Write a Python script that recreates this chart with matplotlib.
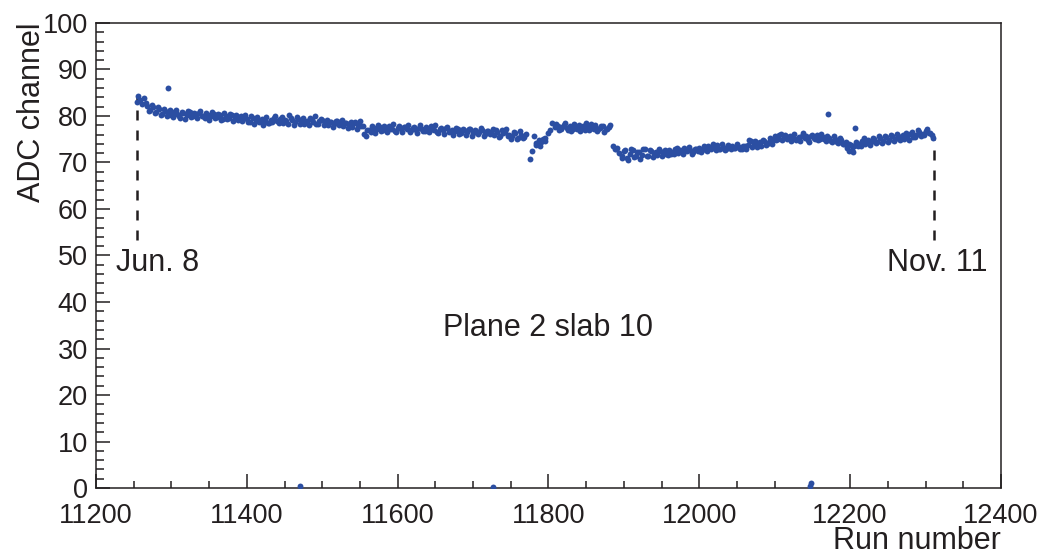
import numpy as np
import matplotlib
matplotlib.use("Agg")
import matplotlib.pyplot as plt
from matplotlib.ticker import MultipleLocator

plt.rcParams["font.family"] = ["Liberation Sans", "DejaVu Sans"]
plt.rcParams["font.size"] = 22

INK = "#231f20"
BLUE = "#2b4ea2"

# ADC peak position per run (plane 2, slab 10), two interleaved run lists
runs_early = [11254, 11256, 11258, 11261, 11264, 11266, 11268, 11270, 11272,
              11274, 11276, 11278, 11280, 11282, 11284, 11286, 11288, 11290,
              11292, 11294, 11296, 11298]
adc_early = [83.0, 84.3, 83.5, 82.6, 83.9, 82.8, 82.1, 81.0, 81.3,
             82.4, 81.9, 80.6, 80.8, 81.9, 81.5, 80.2, 80.4, 81.6,
             81.0, 80.0, 80.6, 81.2]

runs_a = [11300, 11304, 11308, 11312, 11316, 11320, 11324, 11328, 11332, 11336,
          11340, 11344, 11348, 11352, 11356, 11360, 11364, 11368, 11372, 11376,
          11380, 11384, 11388, 11392, 11396]
adc_a = [80.2, 80.9, 80.5, 79.6, 80.7, 80.3, 80.8, 79.9, 80.4, 80.6,
         80.1, 79.5, 80.3, 79.9, 80.5, 79.7, 80.2, 79.4, 80.0, 79.6,
         80.3, 79.8, 79.2, 79.9, 79.5]
runs_a2 = [11302, 11306, 11310, 11314, 11318, 11322, 11326, 11330, 11334, 11338,
           11342, 11346, 11350, 11354, 11358, 11362, 11366, 11370, 11374, 11378,
           11382, 11386, 11390, 11394, 11398]
adc_a2 = [79.8, 81.2, 80.0, 80.9, 79.4, 81.0, 79.7, 80.6, 79.5, 81.1,
          79.9, 80.7, 79.2, 80.8, 79.6, 80.4, 79.1, 80.6, 79.3, 80.5,
          79.0, 80.2, 79.7, 78.9, 80.3]

runs_b = [11400, 11404, 11408, 11412, 11416, 11420, 11424, 11428, 11432, 11436,
          11440, 11444, 11448, 11452, 11456, 11460, 11464, 11468, 11472, 11476,
          11480, 11484, 11488, 11492, 11496, 11500, 11504, 11508, 11512, 11516,
          11520, 11524, 11528, 11532, 11536, 11540, 11544, 11548, 11552]
adc_b = [79.4, 78.8, 79.6, 79.1, 78.6, 79.3, 79.0, 78.5, 79.2, 79.6,
         78.9, 79.3, 78.4, 79.0, 80.2, 79.1, 78.6, 79.4, 78.9, 78.3,
         79.0, 79.5, 78.7, 78.2, 78.9, 79.2, 78.5, 78.0, 78.7, 78.3,
         78.9, 78.4, 77.8, 78.5, 78.2, 77.7, 78.6, 78.1, 77.9]
runs_b2 = [11402, 11406, 11410, 11414, 11418, 11422, 11426, 11430, 11434, 11438,
           11442, 11446, 11450, 11454, 11458, 11462, 11466, 11470, 11474, 11478,
           11482, 11486, 11490, 11494, 11498, 11502, 11506, 11510, 11514, 11518,
           11522, 11526, 11530, 11534, 11538, 11542, 11546, 11550, 11554]
adc_b2 = [78.6, 79.9, 78.3, 79.7, 79.0, 78.1, 79.8, 78.5, 78.8, 80.0,
          78.4, 79.7, 79.1, 78.2, 79.5, 78.0, 79.8, 78.3, 79.5, 78.7,
          78.1, 79.2, 79.9, 78.3, 79.4, 78.0, 79.1, 78.6, 77.6, 79.0,
          78.1, 79.2, 78.5, 77.5, 78.8, 78.4, 77.3, 78.9, 77.8]

runs_c = [11556, 11560, 11564, 11568, 11572, 11576, 11580, 11584, 11588, 11592,
          11596, 11600, 11604, 11608, 11612, 11616, 11620, 11624, 11628, 11632,
          11636, 11640, 11644, 11648, 11652, 11656, 11660, 11664, 11668, 11672,
          11676, 11680, 11684, 11688, 11692, 11696, 11700, 11704, 11708, 11712,
          11716, 11720, 11724, 11728, 11732, 11736, 11740, 11744, 11748]
adc_c = [76.2, 77.0, 76.6, 77.5, 77.1, 77.6, 77.0, 77.4, 77.8, 77.2,
         76.8, 77.5, 77.1, 77.6, 77.3, 76.6, 77.4, 77.0, 77.5, 77.2,
         76.8, 77.3, 77.8, 77.0, 76.6, 77.2, 76.9, 77.4, 76.5, 77.0,
         76.7, 77.3, 76.4, 76.9, 76.6, 77.1, 76.3, 76.8, 76.5, 77.0,
         76.2, 76.7, 76.4, 76.0, 76.6, 75.8, 76.3, 77.2, 76.0]
runs_c2 = [11558, 11562, 11566, 11570, 11574, 11578, 11582, 11586, 11590, 11594,
           11598, 11602, 11606, 11610, 11614, 11618, 11622, 11626, 11630, 11634,
           11638, 11642, 11646, 11650, 11654, 11658, 11662, 11666, 11670, 11674,
           11678, 11682, 11686, 11690, 11694, 11698, 11702, 11706, 11710, 11714,
           11718, 11722, 11726, 11730, 11734, 11738, 11742, 11746, 11750]
adc_c2 = [75.8, 76.9, 77.8, 76.4, 78.0, 76.7, 77.9, 76.5, 77.3, 78.2,
          76.6, 77.9, 76.5, 77.7, 78.1, 76.9, 77.6, 76.4, 78.0, 76.8,
          77.6, 76.5, 77.2, 78.0, 76.3, 77.5, 76.1, 77.7, 76.8, 75.9,
          77.4, 76.2, 77.1, 76.0, 77.3, 75.8, 76.9, 76.1, 77.5, 75.7,
          76.8, 76.1, 77.3, 76.9, 75.5, 77.0, 76.6, 75.6, 75.1]

# drop and recovery near run 11775
runs_d = [11752, 11754, 11756, 11758, 11760, 11762, 11764, 11766, 11768, 11770,
          11775, 11778, 11781, 11783, 11784, 11787, 11789, 11790, 11793, 11795,
          11796, 11799, 11802, 11805, 11808]
adc_d = [75.8, 76.6, 76.3, 75.0, 75.2, 76.8, 76.0, 75.3, 75.5, 76.2,
         70.8, 72.5, 75.7, 73.8, 74.2, 74.8, 73.6, 74.4, 75.0, 75.2,
         74.6, 76.3, 77.0, 78.4, 77.6]

runs_e = [11810, 11812, 11814, 11816, 11818, 11820, 11822, 11824, 11826, 11828,
          11830, 11832, 11834, 11836, 11838, 11840, 11842, 11844, 11846, 11848,
          11850, 11852, 11854, 11856, 11858, 11860, 11862, 11864, 11866, 11868,
          11870, 11872, 11874, 11876, 11878, 11880, 11882]
adc_e = [78.2, 77.9, 76.9, 77.2, 77.7, 78.0, 78.5, 77.5, 77.0, 77.8,
         76.8, 77.1, 78.2, 77.6, 77.3, 78.1, 76.7, 77.4, 77.9, 77.0,
         78.4, 77.7, 76.9, 78.3, 77.5, 77.3, 78.0, 76.8, 77.1, 77.5,
         77.8, 77.9, 76.6, 77.2, 77.2, 77.6, 78.0]

# gain step after run 11884
runs_f = [11886, 11888, 11890, 11891, 11894, 11897, 11898, 11900, 11902, 11904,
          11906, 11908, 11910, 11912, 11914, 11916, 11918, 11920, 11922, 11924,
          11926, 11928, 11930, 11932, 11934, 11936, 11938, 11940, 11942, 11944,
          11946, 11948, 11950, 11952, 11954, 11956, 11958, 11960, 11962]
adc_f = [73.6, 72.8, 73.0, 73.2, 72.0, 71.3, 71.0, 72.5, 72.7, 70.9,
         70.5, 71.8, 72.9, 72.6, 71.2, 71.5, 72.3, 72.2, 70.8, 71.7,
         73.0, 72.8, 71.5, 71.4, 72.6, 72.4, 71.1, 72.0, 72.2, 71.6,
         73.0, 72.5, 71.3, 72.1, 72.7, 71.8, 71.6, 72.6, 71.9]

runs_g = [11964, 11968, 11972, 11976, 11980, 11984, 11988, 11992, 11996, 12000,
          12004, 12008, 12012, 12016, 12020, 12024, 12028, 12032, 12036, 12040,
          12044, 12048, 12052, 12056, 12060, 12064, 12068, 12072, 12076, 12080,
          12084, 12088, 12092, 12096]
adc_g = [72.3, 72.8, 72.0, 72.5, 73.1, 72.4, 72.7, 72.2, 72.9, 73.2,
         72.6, 73.0, 73.5, 72.9, 73.3, 73.7, 73.0, 73.4, 72.8, 73.3,
         73.6, 73.1, 73.4, 72.9, 73.5, 73.8, 74.6, 73.9, 73.4, 74.3,
         74.8, 73.7, 74.4, 74.0]
runs_g2 = [11966, 11970, 11974, 11978, 11982, 11986, 11990, 11994, 11998, 12002,
           12006, 12010, 12014, 12018, 12022, 12026, 12030, 12034, 12038, 12042,
           12046, 12050, 12054, 12058, 12062, 12066, 12070, 12074, 12078, 12082,
           12086, 12090, 12094, 12098]
adc_g2 = [71.8, 73.1, 72.6, 71.9, 72.7, 73.3, 71.9, 73.0, 72.5, 72.3,
          73.6, 72.4, 73.1, 73.9, 72.6, 72.8, 73.9, 72.6, 73.7, 72.9,
          73.2, 74.0, 72.8, 73.6, 72.9, 74.9, 73.3, 74.7, 74.2, 73.6,
          74.6, 74.0, 75.3, 74.8]

runs_h = [12100, 12104, 12108, 12112, 12116, 12120, 12124, 12128, 12132, 12136,
          12140, 12144, 12148, 12152, 12156, 12160, 12164, 12168, 12171, 12172,
          12176, 12180, 12184, 12188, 12192]
adc_h = [75.6, 75.1, 76.2, 75.4, 75.0, 75.7, 75.3, 74.9, 75.5, 75.8,
         75.2, 74.8, 75.6, 75.3, 75.9, 75.0, 75.4, 74.7, 80.4, 75.2,
         74.5, 75.0, 74.2, 74.8, 73.9]
runs_h2 = [12102, 12106, 12110, 12114, 12118, 12122, 12126, 12130, 12134, 12138,
           12142, 12146, 12150, 12154, 12158, 12162, 12166, 12170, 12174, 12178,
           12182, 12186, 12190]
adc_h2 = [74.8, 76.0, 74.9, 75.9, 75.5, 74.7, 76.1, 75.0, 74.6, 76.3,
          75.6, 74.5, 75.9, 75.0, 74.8, 76.2, 75.1, 75.8, 74.6, 75.7,
          74.4, 75.3, 74.0]

runs_i = [12194, 12196, 12198, 12199, 12201, 12202, 12204, 12205, 12207, 12208,
          12210]
adc_i = [74.5, 73.2, 72.4, 74.0, 73.7, 72.6, 72.2, 73.5, 77.4, 74.3,
         73.6]

runs_j = [12212, 12216, 12220, 12224, 12228, 12232, 12236, 12240, 12244, 12248,
          12252, 12256, 12260, 12264, 12268, 12272, 12276, 12280, 12284, 12288,
          12292, 12296, 12300, 12304, 12308, 12310]
adc_j = [74.0, 74.6, 73.9, 74.8, 74.3, 75.0, 74.5, 75.2, 74.7, 75.4,
         74.9, 75.6, 75.1, 75.8, 75.3, 75.0, 75.7, 76.2, 75.5, 76.0,
         76.6, 76.2, 76.8, 76.4, 75.9, 75.3]
runs_j2 = [12214, 12218, 12222, 12226, 12230, 12234, 12238, 12242, 12246, 12250,
           12254, 12258, 12262, 12266, 12270, 12274, 12278, 12282, 12286, 12290,
           12294, 12298, 12302, 12306]
adc_j2 = [73.6, 75.2, 74.3, 73.8, 75.3, 74.2, 75.7, 74.1, 75.8, 74.5,
          75.9, 74.6, 76.2, 74.8, 76.0, 76.4, 74.9, 76.6, 75.4, 76.9,
          75.7, 76.0, 77.1, 76.3]

# isolated outliers: a spike early on and runs with no signal
runs_out = [11295, 11470, 11726, 12147, 12148]
adc_out = [86.0, 0.5, 0.2, 0.4, 1.0]

run_start, adc_start = 11254, 84.3
run_end, adc_end = 12311, 75.6
dash_bottom = 53.3

runs = np.concatenate([runs_early, runs_a, runs_a2, runs_b, runs_b2, runs_c,
                       runs_c2, runs_d, runs_e, runs_f, runs_g, runs_g2,
                       runs_h, runs_h2, runs_i, runs_j, runs_j2, runs_out])
adc = np.concatenate([adc_early, adc_a, adc_a2, adc_b, adc_b2, adc_c,
                      adc_c2, adc_d, adc_e, adc_f, adc_g, adc_g2,
                      adc_h, adc_h2, adc_i, adc_j, adc_j2, adc_out])

fig = plt.figure(figsize=(10.47, 5.55), dpi=100)
ax = fig.add_axes([0.0917, 0.1207, 0.8643, 0.8379])

ax.scatter(runs, adc, s=18, color=BLUE, linewidths=0, zorder=3)

# date markers for first and last run, dashed upward from the label
ax.plot([run_start, run_start], [dash_bottom, adc_start], color=INK, lw=1.8,
        ls=(0, (4, 4)), zorder=2)
ax.plot([run_end, run_end], [dash_bottom, adc_end], color=INK, lw=1.8,
        ls=(0, (4, 4)), zorder=2)
ax.text(11282, 48.4, "Jun. 8", ha="center", va="center", color=INK)
ax.text(12315, 48.4, "Nov. 11", ha="center", va="center", color=INK)
ax.text(11799, 34.4, "Plane 2 slab 10", ha="center", va="center", color=INK)

ax.set_xlim(11200, 12400)
ax.set_ylim(0, 100)
ax.xaxis.set_major_locator(MultipleLocator(200))
ax.xaxis.set_minor_locator(MultipleLocator(50))
ax.yaxis.set_major_locator(MultipleLocator(10))
ax.yaxis.set_minor_locator(MultipleLocator(2))

ax.tick_params(which="both", direction="in", color=INK, labelcolor=INK,
               width=1.1, top=False, right=False, labelsize=19.5)
ax.tick_params(which="major", length=10)
ax.tick_params(which="minor", length=5.4)
ax.tick_params(axis="x", pad=11)
ax.tick_params(axis="y", pad=6)
for sp in ax.spines.values():
    sp.set_color(INK)
    sp.set_linewidth(1.1)

ax.set_xlabel("Run number", color=INK, ha="right", va="center")
ax.set_ylabel("ADC channel", color=INK, ha="center", va="top")
ax.xaxis.set_label_coords(1.0, -0.115)
ax.yaxis.set_label_coords(-0.071, 1.0)
ax.yaxis.label.set_verticalalignment("center")
ax.yaxis.label.set_horizontalalignment("right")

fig.savefig("out.png", dpi=100)
